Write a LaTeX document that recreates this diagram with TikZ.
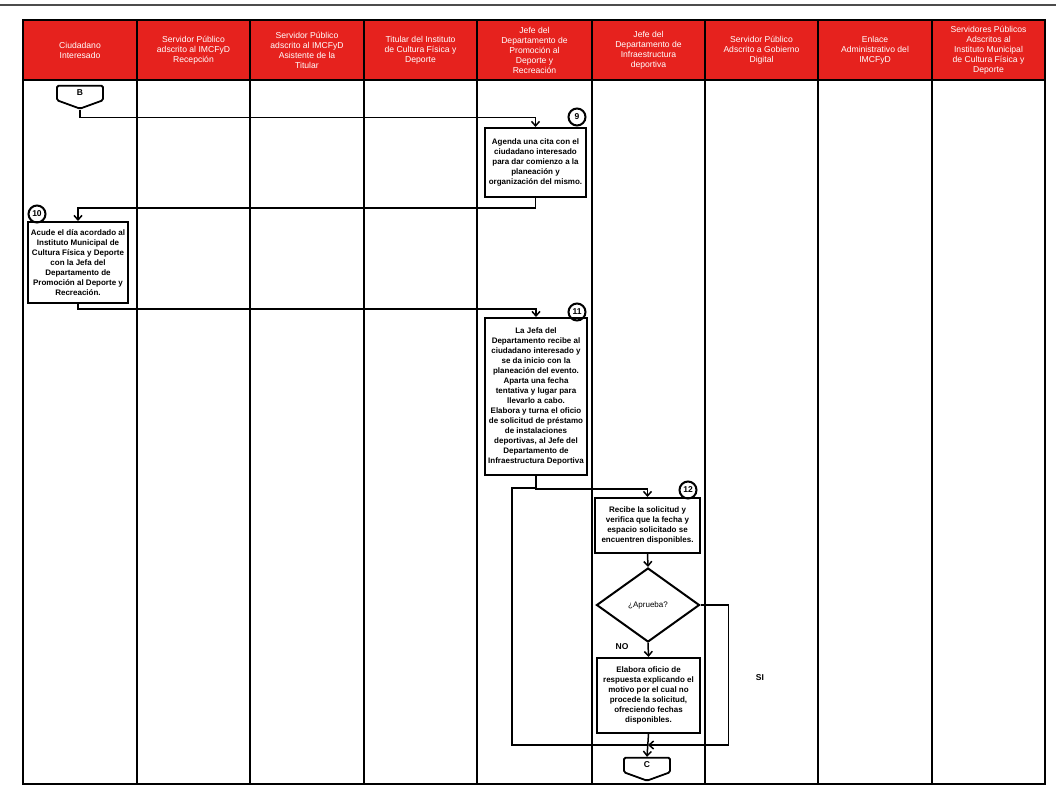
\documentclass[tikz,border=0pt]{standalone}
\usepackage{fontspec}
\setmainfont{Liberation Sans}
\usetikzlibrary{arrows.meta,positioning,shapes.geometric,shapes.symbols}
\definecolor{hdred}{RGB}{230,34,30}

\begin{document}
\begin{tikzpicture}[x=1pt,y=-1pt,
    head/.style={text=white, align=center, font=\fontsize{8.6}{10}\selectfont},
    act/.style={draw, line width=2pt, align=center, inner sep=1pt,
      font=\bfseries\fontsize{8}{10}\selectfont},
    num/.style={circle, draw, line width=2pt, inner sep=0pt, minimum size=17pt,
      font=\bfseries\fontsize{8.5}{8.5}\selectfont},
    offpage/.style={signal, signal to=south, signal from=nowhere, draw, line width=1.8pt,
      minimum width=46pt, minimum height=16pt, signal pointer angle=140,
      inner sep=1pt, rounded corners=1.5pt, font=\bfseries\fontsize{8.5}{8.5}\selectfont},
    flow/.style={line width=1.5pt, -{Straight Barb[length=4.5pt,width=8pt]}},
    link/.style={line width=1.5pt}]
  \useasboundingbox (0,0) rectangle (1056,795);

  % carriles
  \draw[gray!60!black, line width=1.2pt] (0,5) -- (1056,5);
  \fill[hdred] (23,20) rectangle (1045,80);
  \draw[line width=1.8pt] (23,20) rectangle (1045,784);
  \draw[line width=1.8pt] (23,80) -- (1045,80);
  \foreach \x in {137,250,364,477,592,705,818,932}
    \draw[line width=1.8pt] (\x,20) -- (\x,784);
  \foreach \x/\t [count=\i] in {
      80/{Ciudadano\\Interesado},
      193.5/{Servidor Público\\adscrito al IMCFyD\\Recepción},
      307/{Servidor Público\\adscrito al IMCFyD\\Asistente de la\\Titular},
      420.5/{Titular del Instituto\\de Cultura Física y\\Deporte},
      534.5/{Jefe del\\Departamento de\\Promoción al\\Deporte y\\Recreación},
      648.5/{Jefe del\\Departamento de\\Infraestructura\\deportiva},
      761.5/{Servidor Público\\Adscrito a Gobierno\\Digital},
      875/{Enlace\\Administrativo del\\IMCFyD},
      988.5/{Servidores Públicos\\Adscritos al\\Instituto Municipal\\de Cultura Física y\\Deporte}}
    \node[head] (h\i) at (\x,50) {\t};

  % actividades
  \node[offpage] (B) at (80,93) {B};
  \node[act, minimum width=101pt, minimum height=69pt] (n9) at (535.5,162.5)
    {Agenda una cita con el\\ciudadano interesado\\para dar comienzo a la\\planeación y\\organización del mismo.};
  \node[num] (c9) at (577,117) {9};
  \node[act, minimum width=100pt, minimum height=81pt] (n10) at (78,262.5)
    {Acude el día acordado al\\Instituto Municipal de\\Cultura Física y Deporte\\con la Jefa del\\Departamento de\\Promoción al Deporte y\\Recreación.};
  \node[num] (c10) at (37,214) {10};
  \node[act, minimum width=102pt, minimum height=157pt] (n11) at (536,396.5)
    {La Jefa del\\Departamento recibe al\\ciudadano interesado y\\se da inicio con la\\planeación del evento.\\Aparta una fecha\\tentativa y lugar para\\llevarlo a cabo.\\Elabora y turna el oficio\\de solicitud de préstamo\\de instalaciones\\deportivas, al Jefe del\\Departamento de\\Infraestructura Deportiva};
  \node[num] (c11) at (577,312) {11};
  \node[act, minimum width=105pt, minimum height=55pt] (n12) at (647.5,525.5)
    {Recibe la solicitud y\\verifica que la fecha y\\espacio solicitado se\\encuentren disponibles.};
  \node[num] (c12) at (688,490) {12};
  \node[diamond, draw, line width=2pt, minimum width=103pt, minimum height=74pt,
    inner sep=0pt, font=\fontsize{8}{9}\selectfont] (dec) at (648,605) {¿Aprueba?};
  \node[act, minimum width=103pt, minimum height=75pt] (n13) at (648.5,695.5)
    {Elabora oficio de\\respuesta explicando el\\motivo por el cual no\\procede la solicitud,\\ofreciendo fechas\\disponibles.};
  \node[offpage] (C) at (647,765) {C};
  \node[font=\bfseries\fontsize{8.5}{8.5}\selectfont] (no) at (622,647) {NO};
  \node[font=\bfseries\fontsize{8.5}{8.5}\selectfont] (si) at (760,678) {SI};
  \coordinate (j) at (648,745);
  \coordinate (k) at (512,488);

  % conectores
  \draw[flow] (B.south) -- ++(0,8) -| (n9.north);
  \draw[flow] (n9.south) -- ++(0,10) -| (n10.north);
  \draw[flow] (n10.south) -- ++(0,5) -| (n11.north);
  \draw[flow] (n11.south) -- ++(0,13) -| (n12.north);
  \draw[flow] (n12.south) -- (dec.north);
  \draw[flow] (dec.south) -- (n13.north);
  \draw[flow] (dec.east) -- ++(28,0) |- (j);
  \draw[link] (j) -| (k) -- (n11.south |- k);
  \draw[flow] (n13.south) -- (C.north);
\end{tikzpicture}
\end{document}
